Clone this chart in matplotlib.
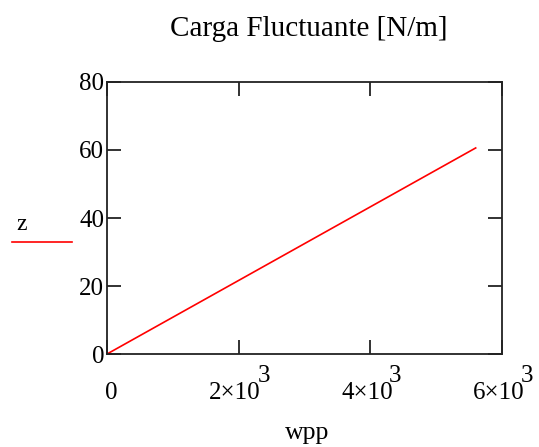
import matplotlib
matplotlib.use('Agg')
import matplotlib.pyplot as plt
from matplotlib.lines import Line2D
from matplotlib.transforms import ScaledTranslation

# data
wpp = [0, 5600]
z = [0, 60.6]
xticks = [0, 2000, 4000, 6000]
xtick_labels = ['0', '2×10', '4×10', '6×10']
xtick_exp = ['', '3', '3', '3']
yticks = [0, 20, 40, 60, 80]

plt.rcParams['font.family'] = ['Liberation Serif', 'DejaVu Serif']

fig = plt.figure(figsize=(5.39, 4.47), dpi=100)
ax = fig.add_axes([0.1985, 0.208, 0.7329, 0.6086])

ax.plot(wpp, z, color='red', lw=1.2)
ax.set_xlim(0, 6000)
ax.set_ylim(0, 80)

ax.set_xticks(xticks)
ax.set_xticklabels(xtick_labels, fontsize=18)
ax.set_yticks(yticks)
ax.set_yticklabels([str(v) for v in yticks], fontsize=18)
ax.tick_params(direction='in', length=10, width=1.3, top=True, right=True,
               color='#222222')
ax.tick_params(axis='x', pad=20)
ax.tick_params(axis='y', pad=2)
for s in ax.spines.values():
    s.set_linewidth(1.3)
    s.set_color('#222222')

# nudge labels like the original (whole "n×10^3" is centred on the tick)
for lab, e in zip(ax.get_xticklabels(), xtick_exp):
    dx = -0.035 if e else 0.045
    lab.set_transform(lab.get_transform() + ScaledTranslation(dx, 0, fig.dpi_scale_trans))

# full-size exponents like the original
for x, e in zip(xticks, xtick_exp):
    if e:
        ax.annotate(e, xy=(x, 0), xycoords=('data', 'axes fraction'),
                    xytext=(13.5, -15.5), textcoords='offset points',
                    fontsize=18, ha='left', va='center')

fig.text(0.572, 0.935, 'Carga Fluctuante [N/m]', fontsize=21, ha='center', va='center')
fig.text(0.570, 0.031, 'wpp', fontsize=18.5, ha='center', va='center')

# legend entry on the left
fig.text(0.040, 0.497, 'z', fontsize=17, ha='center', va='center')
fig.add_artist(Line2D([0.022, 0.134], [0.459, 0.459], color='red', lw=1.2,
                      transform=fig.transFigure))

fig.savefig('out.png', dpi=100)
